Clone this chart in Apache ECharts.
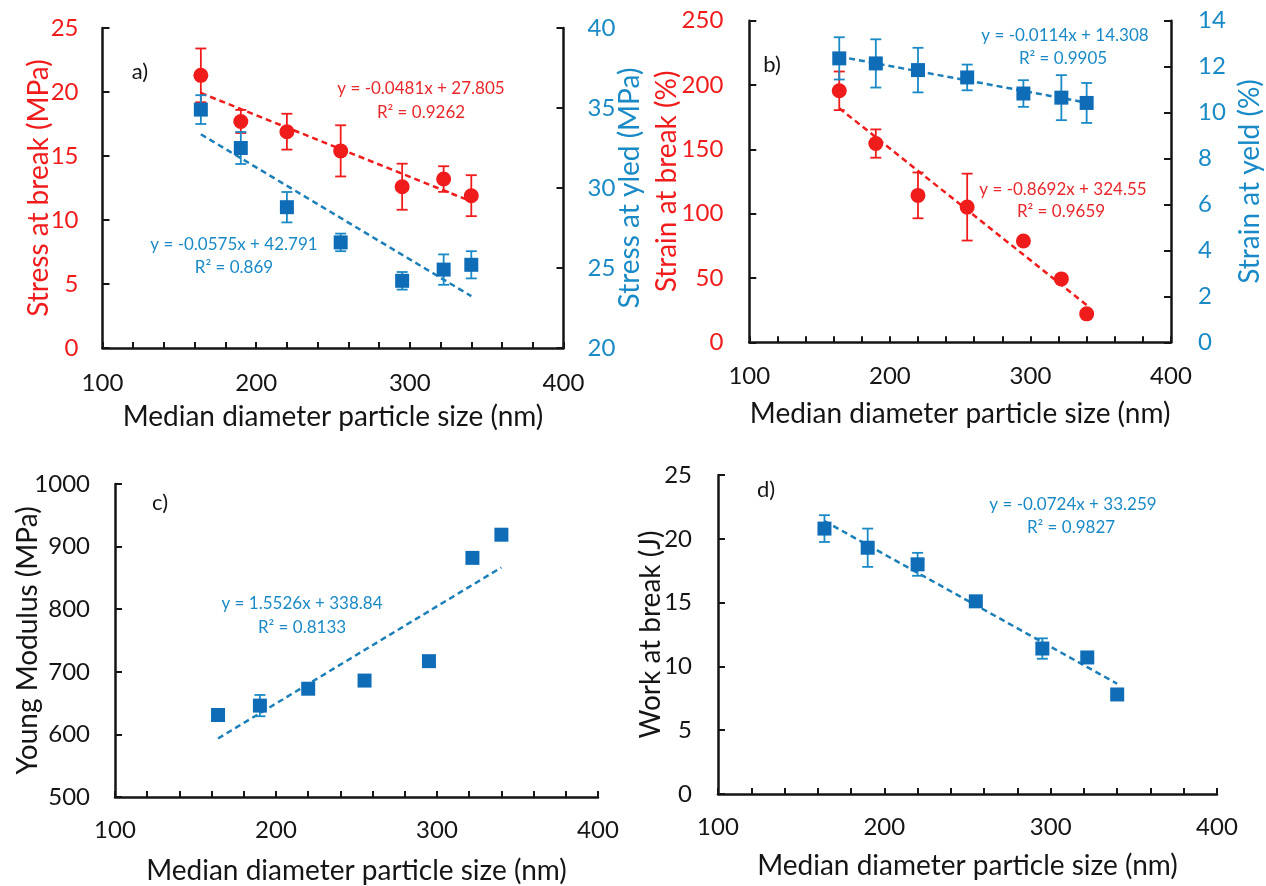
<!DOCTYPE html>
<html>
<head>
<meta charset="utf-8">
<script src="https://cdn.jsdelivr.net/npm/echarts@6.0.0/dist/echarts.min.js"></script>
<style>
  html, body { margin: 0; padding: 0; background: #fff; }
  #box { width: 1266px; height: 886px; }
</style>
</head>
<body>
<div id="box"></div>
<script>
// 粒径 (nm)
const aSize = [164, 190, 220, 255, 295, 322, 340];

// a) stress
const aStressBreak = [21.3, 17.7, 16.9, 15.4, 12.6, 13.2, 11.9];
const aStressBreakErr = [2.1, 0.9, 1.4, 2.0, 1.8, 1.0, 1.6];
const aStressYield = [34.9, 32.5, 28.8, 26.6, 24.2, 24.9, 25.2];
const aStressYieldErr = [0.9, 1.0, 0.95, 0.55, 0.55, 0.95, 0.85];
const aTrendStressBreak = [[164, 19.92], [340, 11.45]];
const aTrendStressYield = [[164, 33.36], [340, 23.24]];

// b) strain
const aStrainBreak = [195.5, 154.5, 114.2, 105.1, 78.7, 49.3, 22.1];
const aStrainBreakErr = [15, 11, 17.8, 26, 2, 3, 1.5];
const aStrainYield = [12.36, 12.14, 11.85, 11.53, 10.83, 10.65, 10.42];
const aStrainYieldErr = [0.92, 1.05, 0.97, 0.56, 0.58, 0.98, 0.87];
const aTrendStrainBreak = [[164, 182.0], [340, 29.0]];
const aTrendStrainYield = [[164, 12.44], [340, 10.43]];

// c) modulus
const aModulus = [631, 646, 673, 686, 717, 882, 919];
const aModulusErr = [4, 17, 5, 8, 3, 3, 3];
const aTrendModulus = [[164, 593.5], [340, 866.7]];

// d) work
const aWork = [20.8, 19.3, 18.0, 15.1, 11.4, 10.7, 7.8];
const aWorkErr = [1.05, 1.5, 0.9, 0.3, 0.8, 0.4, 0.3];
const aTrendWork = [[164, 21.39], [340, 8.64]];

// x tick labels
const aXTicks = [100, 200, 300, 400];

const FONT = 'Lato';
const RED = '#f01c1c';
const RED_TXT = '#e8282a';
const BLUE = '#0f6db8';
const BLUE_LINE = '#1c7fb8';
const BLUE_TXT = '#1a8ac6';
const BLACK = '#151515';

function makeX(gridIndex, margin, nameGap){
    return {
        type: 'value', gridIndex, min: 100, max: 400, interval: 20,
        axisLine: { show: true, onZero: false, lineStyle: { color: BLACK, width: 2.5 } },
        axisTick: { show: true, inside: true, length: 6, lineStyle: { color: BLACK, width: 2 } },
        axisLabel: {
            formatter: v => aXTicks.includes(v) ? String(v) : '',
            color: BLACK, fontSize: 24, margin, fontFamily: FONT,
        },
        splitLine: { show: false },
        name: 'Median diameter particle size (nm)',
        nameLocation: 'middle', nameGap, nameMoveOverlap: false,
        nameTextStyle: { fontSize: 28, color: BLACK, fontFamily: FONT },
    };
}

function makeY(gridIndex, min, max, interval, position, color, name, nameGap, margin){
    return {
        type: 'value', gridIndex, min, max, interval, position,
        axisLine: { show: true, onZero: false, lineStyle: { color: BLACK, width: 2.5 } },
        axisTick: { show: true, inside: true, length: 7, lineStyle: { color: BLACK, width: 2 } },
        axisLabel: { color, fontSize: 24, margin, fontFamily: FONT, formatter: v => String(v) },
        splitLine: { show: false },
        name, nameLocation: 'middle', nameGap, nameMoveOverlap: false,
        nameTextStyle: { fontSize: 28, color, fontFamily: FONT },
    };
}

function scatter(xi, yi, aY, symbol, size, color){
    return {
        type: 'scatter', xAxisIndex: xi, yAxisIndex: yi, symbol, symbolSize: size,
        itemStyle: { color, opacity: 1 }, z: 5,
        data: aSize.map((x, i) => [x, aY[i]]),
    };
}

function errBar(xi, yi, aY, aErr, color){
    return {
        type: 'custom', xAxisIndex: xi, yAxisIndex: yi, z: 4,
        encode: { x: 0, y: [1, 2] },
        data: aSize.map((x, i) => [x, aY[i] - aErr[i], aY[i] + aErr[i]]),
        renderItem(params, api){
            const pLo = api.coord([api.value(0), api.value(1)]);
            const pHi = api.coord([api.value(0), api.value(2)]);
            const w = 5.5;
            const st = { stroke: color, lineWidth: 1.8 };
            return {
                type: 'group',
                children: [
                    { type: 'line', shape: { x1: pLo[0], y1: pLo[1], x2: pHi[0], y2: pHi[1] }, style: st },
                    { type: 'line', shape: { x1: pLo[0] - w, y1: pLo[1], x2: pLo[0] + w, y2: pLo[1] }, style: st },
                    { type: 'line', shape: { x1: pHi[0] - w, y1: pHi[1], x2: pHi[0] + w, y2: pHi[1] }, style: st },
                ],
            };
        },
    };
}

function trend(xi, yi, aData, color){
    return {
        type: 'line', xAxisIndex: xi, yAxisIndex: yi, data: aData, symbol: 'none', z: 3,
        lineStyle: { color, width: 2.5, type: [6, 4] },
    };
}

function txt(x, y, text, color, size){
    return {
        type: 'text', x, y,
        style: { text, fill: color, font: `${size}px ${FONT}`, align: 'center', verticalAlign: 'middle' },
    };
}

const option = {
    backgroundColor: '#fff',
    animation: false,
    grid: [
        { left: 102.5, top: 28, width: 461, height: 320 },
        { left: 749.3, top: 20.7, width: 421.7, height: 321.6 },
        { left: 115, top: 484, width: 483, height: 313 },
        { left: 718, top: 475, width: 499, height: 319 },
    ],
    xAxis: [
        makeX(0, 23, 55),
        makeX(1, 22, 58),
        makeX(2, 21, 60),
        makeX(3, 21, 58),
    ],
    yAxis: [
        makeY(0, 0, 25, 5, 'left', RED, 'Stress at break (MPa)', 50, 24),
        makeY(0, 20, 40, 5, 'right', BLUE_TXT, 'Stress at yled (MPa)', 52, 24),
        makeY(1, 0, 250, 50, 'left', RED, 'Strain at break (%)', 68, 26),
        makeY(1, 0, 14, 2, 'right', BLUE_TXT, 'Strain at yeld (%)', 65, 27),
        makeY(2, 500, 1000, 100, 'left', BLACK, 'Young Modulus (MPa)', 73, 25),
        makeY(3, 0, 25, 5, 'left', BLACK, 'Work at break (J)', 53, 26),
    ],
    series: [
        trend(0, 0, aTrendStressBreak, RED),
        trend(0, 1, aTrendStressYield, BLUE_LINE),
        errBar(0, 0, aStressBreak, aStressBreakErr, RED),
        errBar(0, 1, aStressYield, aStressYieldErr, BLUE_TXT),
        scatter(0, 0, aStressBreak, 'circle', 15, RED),
        scatter(0, 1, aStressYield, 'rect', 14, BLUE),

        trend(1, 2, aTrendStrainBreak, RED),
        trend(1, 3, aTrendStrainYield, BLUE_LINE),
        errBar(1, 2, aStrainBreak, aStrainBreakErr, RED),
        errBar(1, 3, aStrainYield, aStrainYieldErr, BLUE_TXT),
        scatter(1, 2, aStrainBreak, 'circle', 15, RED),
        scatter(1, 3, aStrainYield, 'rect', 14, BLUE),

        trend(2, 4, aTrendModulus, BLUE_LINE),
        errBar(2, 4, aModulus, aModulusErr, BLUE_TXT),
        scatter(2, 4, aModulus, 'rect', 14, BLUE),

        trend(3, 5, aTrendWork, BLUE_LINE),
        errBar(3, 5, aWork, aWorkErr, BLUE_TXT),
        scatter(3, 5, aWork, 'rect', 14, BLUE),
    ],
    graphic: [
        txt(140, 72, 'a)', BLACK, 22),
        txt(421, 89, 'y = -0.0481x + 27.805', RED_TXT, 17),
        txt(421, 113, 'R² = 0.9262', RED_TXT, 17),
        txt(234, 245, 'y = -0.0575x + 42.791', BLUE_TXT, 17),
        txt(234, 268, 'R² = 0.869', BLUE_TXT, 17),

        txt(772, 65, 'b)', BLACK, 22),
        txt(1065, 36, 'y = -0.0114x + 14.308', BLUE_TXT, 17),
        txt(1063, 59, 'R² = 0.9905', BLUE_TXT, 17),
        txt(1063, 190, 'y = -0.8692x + 324.55', RED_TXT, 17),
        txt(1061, 212, 'R² = 0.9659', RED_TXT, 17),

        txt(160, 503, 'c)', BLACK, 22),
        txt(302, 604, 'y = 1.5526x + 338.84', BLUE_TXT, 17),
        txt(302, 628, 'R² = 0.8133', BLUE_TXT, 17),

        txt(766, 490, 'd)', BLACK, 22),
        txt(1073, 505, 'y = -0.0724x + 33.259', BLUE_TXT, 17),
        txt(1071, 528, 'R² = 0.9827', BLUE_TXT, 17),
    ],
};

const myChart = echarts.init(document.getElementById('box'));
myChart.setOption(option);
</script>
</body>
</html>
